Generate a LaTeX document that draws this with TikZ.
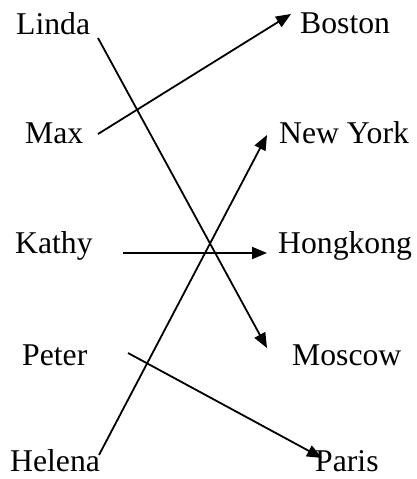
\documentclass[tikz,border=0pt]{standalone}
\usepackage{fontspec}
\setmainfont{Liberation Serif}
\usetikzlibrary{arrows.meta}
\begin{document}
\begin{tikzpicture}[x=1pt,y=-1pt,
  lbl/.style={anchor=base west,inner sep=0pt,font=\fontsize{31.7}{38}\selectfont},
  link/.style={line width=1.8pt,-{Triangle[length=15pt,width=12pt]}}]
\useasboundingbox (0,0) rectangle (417,479);
% names left
\node[lbl] (linda) at (16,34) {Linda};
\node[lbl] (max) at (25,143) {Max};
\node[lbl] (kathy) at (15,253) {Kathy};
\node[lbl] (peter) at (22,365) {Peter};
\node[lbl] (helena) at (10,471) {Helena};
% cities right
\node[lbl] (boston) at (300,33) {Boston};
\node[lbl] (newyork) at (279,143) {New York};
\node[lbl] (hongkong) at (278,253) {Hongkong};
\node[lbl] (moscow) at (292,365) {Moscow};
\node[lbl] (paris) at (315,471) {Paris};
% connector ends
\coordinate (lindaOut) at (98,38);
\coordinate (maxOut) at (98,134);
\coordinate (kathyOut) at (123,253);
\coordinate (peterOut) at (128,353);
\coordinate (helenaOut) at (99,455);
\coordinate (bostonIn) at (291,14);
\coordinate (newyorkIn) at (267,135);
\coordinate (hongkongIn) at (267,253);
\coordinate (moscowIn) at (267,348);
\coordinate (parisIn) at (322,458);
% connectors
\draw[link] (lindaOut) -- (moscowIn);
\draw[link] (maxOut) -- (bostonIn);
\draw[link] (kathyOut) -- (hongkongIn);
\draw[link] (peterOut) -- (parisIn);
\draw[link] (helenaOut) -- (newyorkIn);
\end{tikzpicture}
\end{document}
